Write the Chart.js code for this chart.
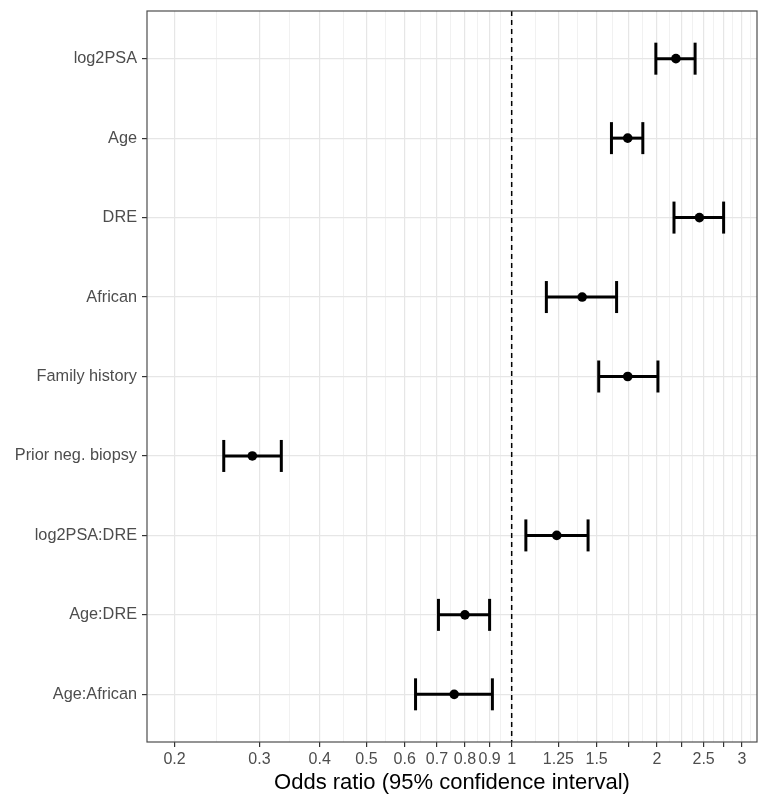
<!DOCTYPE html>
<html>
<head>
<meta charset="utf-8">
<script src="https://cdn.jsdelivr.net/npm/chart.js@4.4.1/dist/chart.umd.min.js"></script>
<style>
  html, body { margin: 0; padding: 0; background: #fff; }
  #wrap { width: 758px; height: 796px; }
</style>
</head>
<body>
<div id="wrap"><canvas id="forestChart" width="758" height="796"></canvas></div>
<script>
// terms, top to bottom
const terms = ['log2PSA', 'Age', 'DRE', 'African', 'Family history',
  'Prior neg. biopsy', 'log2PSA:DRE', 'Age:DRE', 'Age:African'];
const oddsRatio = [2.19, 1.74, 2.45, 1.40, 1.74, 0.290, 1.24, 0.80, 0.76];
const lowerCI = [1.99, 1.61, 2.17, 1.18, 1.515, 0.253, 1.07, 0.705, 0.632];
const upperCI = [2.40, 1.87, 2.75, 1.65, 2.01, 0.333, 1.44, 0.90, 0.912];

// x axis breaks and their labels (some breaks carry no label)
const xBreaks = [0.2, 0.3, 0.4, 0.5, 0.6, 0.7, 0.8, 0.9, 1, 1.25, 1.5, 1.75, 2, 2.25, 2.5, 2.75, 3];
const xLabels = ['0.2', '0.3', '0.4', '0.5', '0.6', '0.7', '0.8', '0.9', '1', '1.25', '1.5', '', '2', '', '2.5', '', '3'];
const xMin = 0.1754, xMax = 3.225;

const fontFamily = '"Liberation Sans", Arial, "DejaVu Sans", sans-serif';

// minor grid lines sit half way (in log space) between breaks
const xTicks = [];
xBreaks.forEach((b, i) => {
  xTicks.push({ value: b, major: true, label: xLabels[i] });
  const next = i < xBreaks.length - 1 ? xBreaks[i + 1] : b * b / xBreaks[i - 1];
  const mid = Math.sqrt(b * next);
  if (mid < xMax) xTicks.push({ value: mid, major: false, label: '' });
});

const rowY = terms.map((t, i) => i + 1);

const errorBars = terms.map((t, i) => ({
  data: [{ x: lowerCI[i], y: rowY[i] }, { x: upperCI[i], y: rowY[i] }],
  showLine: true,
  borderColor: '#000',
  borderWidth: 3,
  pointStyle: 'line',
  pointRadius: 16,
  pointRotation: 90,
  pointBorderWidth: 3,
  pointBorderColor: '#000',
  order: 1
}));

const refLine = {
  data: [{ x: 1, y: 0.4 }, { x: 1, y: 9.6 }],
  showLine: true,
  borderColor: '#000',
  borderWidth: 1.5,
  borderDash: [5, 4],
  pointRadius: 0,
  order: 2
};

const estimates = {
  data: terms.map((t, i) => ({ x: oddsRatio[i], y: rowY[i] })),
  pointRadius: 4.8,
  pointBackgroundColor: '#000',
  pointBorderWidth: 0,
  order: 0
};

const panelBorder = {
  id: 'panelBorder',
  afterDraw(chart) {
    const { ctx, chartArea: a } = chart;
    ctx.save();
    ctx.strokeStyle = '#4d4d4d';
    ctx.lineWidth = 1.2;
    ctx.strokeRect(a.left, a.top, a.right - a.left, a.bottom - a.top);
    ctx.restore();
  }
};

// keep label overflow from shrinking the panel
function noPad(s) {
  s.paddingTop = 0; s.paddingBottom = 0; s.paddingLeft = 0; s.paddingRight = 0;
}

new Chart(document.getElementById('forestChart'), {
  type: 'scatter',
  data: { datasets: [estimates, ...errorBars, refLine] },
  options: {
    responsive: false,
    animation: false,
    events: [],
    layout: { autoPadding: false, padding: { top: 11, right: 1, left: 0, bottom: 0 } },
    plugins: { legend: { display: false }, tooltip: { enabled: false } },
    scales: {
      x: {
        type: 'logarithmic',
        min: xMin,
        max: xMax,
        afterBuildTicks: s => { s.ticks = xTicks.map(t => ({ ...t })); },
        afterFit: s => { s.height = 54; noPad(s); },
        border: { display: false },
        grid: {
          color: c => c.tick && c.tick.major ? '#e6e6e6' : '#efefef',
          lineWidth: c => c.tick && c.tick.major ? 1.2 : 0.9,
          tickColor: c => c.tick && c.tick.major ? '#333333' : 'rgba(0,0,0,0)',
          tickWidth: 1.2,
          tickLength: 5
        },
        ticks: {
          autoSkip: false,
          maxRotation: 0,
          padding: 3,
          color: '#4d4d4d',
          font: { family: fontFamily, size: 16 },
          callback: (v, i) => xTicks[i] ? xTicks[i].label : ''
        },
        title: {
          display: true,
          text: 'Odds ratio (95% confidence interval)',
          color: '#000',
          font: { family: fontFamily, size: 22, lineHeight: 1.2 },
          padding: { top: 0, bottom: 0 }
        }
      },
      y: {
        type: 'linear',
        reverse: true,
        min: 0.4,
        max: 9.6,
        afterBuildTicks: s => { s.ticks = rowY.map(v => ({ value: v })); },
        afterFit: s => { s.width = 147; noPad(s); },
        border: { display: false },
        grid: {
          color: '#e6e6e6',
          lineWidth: 1.2,
          tickColor: '#333333',
          tickWidth: 1.2,
          tickLength: 5
        },
        ticks: {
          autoSkip: false,
          padding: 5,
          color: '#4d4d4d',
          font: { family: fontFamily, size: 16.3 },
          callback: (v, i) => terms[i]
        }
      }
    }
  },
  plugins: [panelBorder]
});
</script>
</body>
</html>
